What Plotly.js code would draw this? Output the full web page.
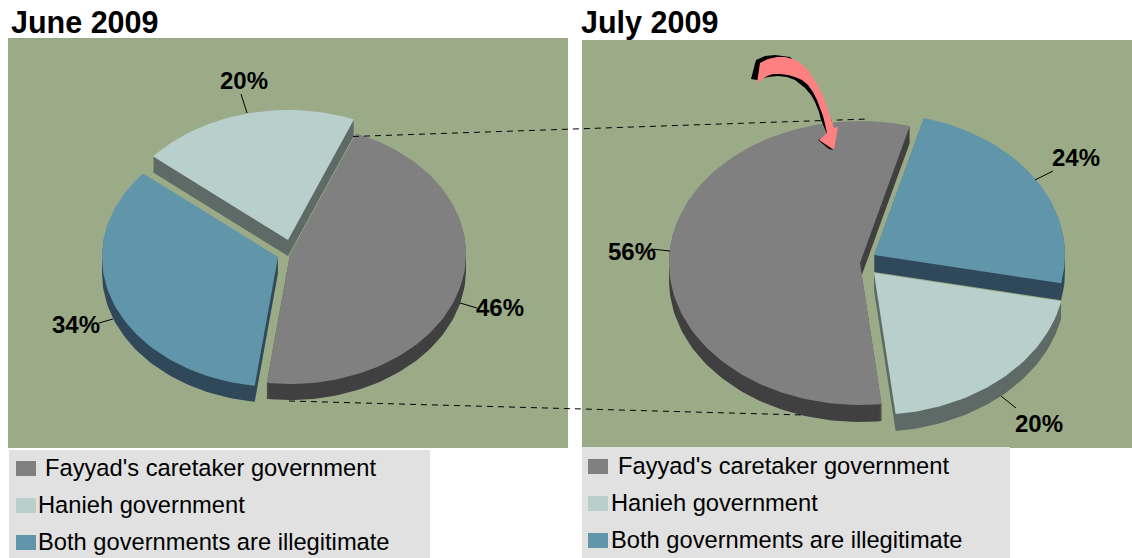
<!DOCTYPE html>
<html>
<head>
<meta charset="utf-8">
<script src="https://cdn.plot.ly/plotly-3.0.1.min.js"></script>
<style>html,body{margin:0;padding:0;background:#fff;overflow:hidden}#chart{width:1132px;height:558px}</style>
</head>
<body>
<div id="chart"></div>
<script>
// ---- data ----
const categories = ["Fayyad's caretaker government", "Hanieh government", "Both governments are illegitimate"];
const juneValues = [46, 20, 34];
const julyValues = [56, 20, 24];
const panelTitles = ["June 2009", "July 2009"];

// ---- styles ----
const FONT = "Liberation Sans, Arial, sans-serif";
const faceColors = {0: "#808080", 1: "#B9CFCC", 2: "#6195AA"};
const sideColors = {0: "#404040", 1: "#5E6A66", 2: "#30495A"};
const panelColor = "#9BAB87";
const legendColor = "#E1E1E1";
// slices are stacked in this order, going clockwise: Fayyad, Both, Hanieh
const clockwise = [0, 2, 1];

const junePie = {cx: 290, cy: 254, a: 176, b: 130, depth: 16, start: 22,
  pull: {0: [0, 0], 1: [-2, -14], 2: [-12, 3]}, paint: [2, 0, 1]};
const julyPie = {cx: 860, cy: 263, a: 191, b: 142, depth: 17, start: 173.5,
  pull: {0: [0, 0], 1: [14, 10], 2: [14, -8]}, paint: [0, 2, 1]};

function sector(pie, idx, from, sweep) {
  const [ox, oy] = pie.pull[idx];
  const xs = [pie.cx + ox], ys = [pie.cy + oy];
  const n = Math.ceil(sweep / 1.5);
  for (let i = 0; i <= n; i++) {
    const t = (from + sweep * i / n) * Math.PI / 180;
    xs.push(pie.cx + ox + pie.a * Math.sin(t));
    ys.push(pie.cy + oy - pie.b * Math.cos(t));
  }
  return {xs, ys};
}

function pieTraces(values, pie) {
  const total = values.reduce((s, v) => s + v, 0);
  const angles = {};
  let cur = pie.start;
  clockwise.forEach(i => { angles[i] = [cur, values[i] / total * 360]; cur += angles[i][1]; });
  const out = [];
  pie.paint.forEach(i => {
    const s = sector(pie, i, angles[i][0], angles[i][1]);
    // extruded side: copies of the outline stepped downward
    const sx = [], sy = [];
    for (let d = 1; d <= pie.depth; d++) {
      s.xs.forEach((x, k) => { sx.push(x); sy.push(s.ys[k] + d); });
      sx.push(null); sy.push(null);
    }
    out.push({type: "scatter", mode: "lines", x: sx, y: sy, fill: "toself",
      fillcolor: sideColors[i], line: {width: 0, color: sideColors[i]}, hoverinfo: "skip"});
    out.push({type: "scatter", mode: "lines", x: s.xs, y: s.ys, fill: "toself",
      fillcolor: faceColors[i], line: {width: 0, color: faceColors[i]},
      name: categories[i], text: values[i] + "%", hoverinfo: "name+text"});
  });
  return out;
}

function lineTrace(xs, ys, dash) {
  return {type: "scatter", mode: "lines", x: xs, y: ys, hoverinfo: "skip",
    line: {color: "#000", width: 1, dash: dash || "solid"}};
}

// callout decoration
const arrowX = [757, 760, 768, 777, 785, 793, 800, 807, 812, 817, 821, 825, 828, 831, 834, 838, 834, 819, 827, 825, 823, 820, 817, 813, 808, 802, 795, 788, 780, 773, 767, 757];
const arrowY = [83, 63, 59, 57, 57, 59, 63, 69, 76, 84, 92, 101, 110, 120, 128, 127, 150, 140, 133, 124, 116, 108, 100, 92, 85, 80, 77, 75, 74, 74, 76, 83];
const shadowX = [751, 756, 765, 775, 790, 805, 825, 829, 818, 829, 834, 821, 819, 815, 811, 805, 795, 787, 778, 768, 757, 751];
const shadowY = [79, 60, 56, 55, 57, 70, 110, 134, 140, 149, 150, 120, 112, 102, 95, 88, 80, 77, 76, 77, 80, 79];

const traces = [
  ...pieTraces(juneValues, junePie),
  ...pieTraces(julyValues, julyPie),
  lineTrace([353, 868], [136.5, 119], "6px,5px"),
  lineTrace([289, 803], [401, 415], "6px,5px"),
  lineTrace([241, 247], [94, 113]),
  lineTrace([99, 113], [323, 319]),
  lineTrace([460, 477], [303, 308]),
  lineTrace([1053, 1035], [171, 180]),
  lineTrace([651, 670], [249, 251]),
  lineTrace([1001, 1016], [396, 408]),
  {type: "scatter", mode: "lines", x: shadowX, y: shadowY, fill: "toself", fillcolor: "#000",
    line: {width: 0}, hoverinfo: "skip"},
  {type: "scatter", mode: "lines", x: arrowX, y: arrowY, fill: "toself", fillcolor: "#FF8080",
    line: {width: 0}, hoverinfo: "skip"}
];

const rect = (x0, y0, x1, y1, c) => ({type: "rect", xref: "x", yref: "y", x0, y0, x1, y1,
  fillcolor: c, line: {width: 0}, layer: "below"});

const shapes = [
  rect(8, 38, 568, 448, panelColor),
  rect(582, 40, 1132, 448, panelColor),
  rect(9, 450, 430, 558, legendColor),
  rect(582, 447, 1010, 558, legendColor)
];
const swatchOrder = [0, 1, 2];
const legends = [
  {sx: 16, sy: [461, 498, 535], tx: [45, 38, 38], ty: [468, 505, 542]},
  {sx: 588, sy: [459, 496, 533], tx: [618, 611, 611], ty: [466, 503, 540]}
];
const annotations = [];
const txt = (x, y, text, size, bold, xanchor) => ({xref: "x", yref: "y", x, y, text: bold ? "<b>" + text + "</b>" : text,
  showarrow: false, xanchor: xanchor || "center", yanchor: "middle",
  font: {family: FONT, size, color: "#000"}, borderpad: 0, borderwidth: 0});

legends.forEach(l => swatchOrder.forEach(i => {
  shapes.push(rect(l.sx, l.sy[i], l.sx + 20, l.sy[i] + 15, faceColors[i]));
  annotations.push(txt(l.tx[i], l.ty[i], categories[i], 23.7, false, "left"));
}));
annotations.push(txt(11, 22, panelTitles[0], 30.5, true, "left"));
annotations.push(txt(581, 22, panelTitles[1], 30.5, true, "left"));
annotations.push(txt(244, 80, juneValues[1] + "%", 24, true));
annotations.push(txt(76, 324, juneValues[2] + "%", 24, true));
annotations.push(txt(500, 307, juneValues[0] + "%", 24, true));
annotations.push(txt(1076, 157, julyValues[2] + "%", 24, true));
annotations.push(txt(632, 251, julyValues[0] + "%", 24, true));
annotations.push(txt(1039, 423, julyValues[1] + "%", 24, true));

const layout = {
  width: 1132, height: 558, margin: {l: 0, r: 0, t: 0, b: 0},
  paper_bgcolor: "#fff", plot_bgcolor: "#fff", showlegend: false,
  xaxis: {range: [0, 1132], visible: false, fixedrange: true},
  yaxis: {range: [558, 0], visible: false, fixedrange: true},
  shapes, annotations
};
Plotly.newPlot("chart", traces, layout, {displayModeBar: false});
</script>
</body>
</html>
